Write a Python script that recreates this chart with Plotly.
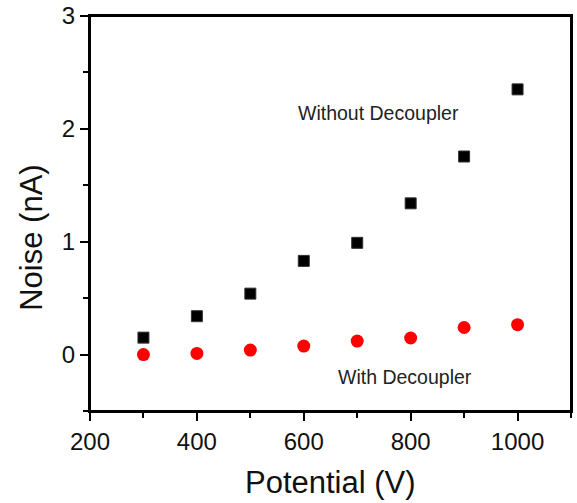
import plotly.graph_objects as go

potential = [300, 400, 500, 600, 700, 800, 900, 1000]
noise_without = [0.15, 0.34, 0.54, 0.83, 0.99, 1.34, 1.755, 2.35]
noise_with = [0.0, 0.01, 0.04, 0.075, 0.12, 0.147, 0.24, 0.265]

FONT = "Liberation Sans, Arial"

fig = go.Figure()
fig.add_trace(go.Scatter(x=potential, y=noise_without, mode="markers",
                         marker=dict(symbol="square", size=11, color="black",
                                     line=dict(width=1, color="#333")),
                         name="Without Decoupler"))
fig.add_trace(go.Scatter(x=potential, y=noise_with, mode="markers",
                         marker=dict(symbol="circle", size=13, color="#ff0000",
                                     line=dict(width=0)),
                         name="With Decoupler"))

fig.add_annotation(x=740, y=2.14, text="Without Decoupler", showarrow=False,
                   font=dict(family=FONT, size=19.5, color="#222"))
fig.add_annotation(x=790, y=-0.2, text="With Decoupler", showarrow=False,
                   font=dict(family=FONT, size=19.5, color="#222"))

# axis titles
fig.add_annotation(xref="paper", yref="paper", x=0.5, y=-0.18, text="Potential (V)",
                   showarrow=False, xanchor="center", yanchor="middle",
                   font=dict(family=FONT, size=31, color="#111"))
fig.add_annotation(xref="paper", yref="paper", x=-0.121, y=0.438, text="Noise (nA)",
                   showarrow=False, textangle=-90, xanchor="center", yanchor="middle",
                   font=dict(family=FONT, size=31, color="#111"))

axis_common = dict(showline=True, linecolor="black", linewidth=2, mirror=True,
                   ticks="outside", ticklen=8, tickwidth=2, tickcolor="black",
                   showgrid=False, zeroline=False, automargin=False,
                   tickfont=dict(family=FONT, size=24, color="#111"))

fig.update_xaxes(range=[200, 1100], tick0=200, dtick=200,
                 minor=dict(ticks="outside", ticklen=5, tickwidth=2, dtick=100, tick0=200,
                            tickcolor="black"),
                 **axis_common)
fig.update_yaxes(range=[-0.5, 3], tick0=0, dtick=1,
                 minor=dict(ticks="outside", ticklen=5, tickwidth=2, dtick=0.5, tick0=0,
                            tickcolor="black"),
                 **axis_common)

fig.add_shape(type="rect", xref="paper", yref="paper", x0=0, y0=0, x1=1, y1=1,
              line=dict(color="black", width=2), layer="above")

fig.update_layout(width=577, height=503, plot_bgcolor="white", paper_bgcolor="white",
                  showlegend=False, margin=dict(l=90, r=6, t=16, b=92))

fig.write_html("out.html", config={"displayModeBar": False},
               post_script="document.body.style.margin='0';")
